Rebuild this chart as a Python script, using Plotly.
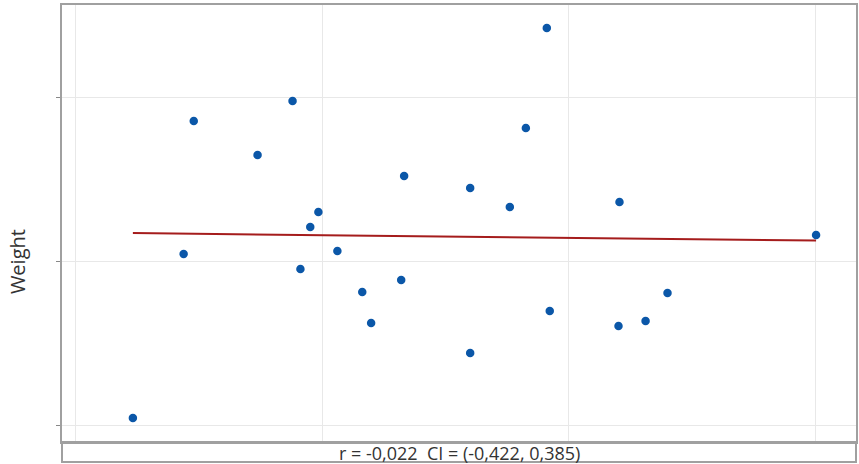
import numpy as np
import plotly.graph_objects as go

x_vals = [2.31, 4.37, 4.78, 7.37, 8.79, 9.11, 9.51, 9.84, 10.61, 11.62, 11.98, 13.20,
          13.32, 16.0, 16.0, 17.61, 18.26, 19.11, 19.23, 22.06, 22.02, 23.12, 24.01, 30.04]
y_vals = [0.49, 10.49, 18.6, 16.52, 19.82, 9.57, 12.13, 13.05, 10.67, 8.17, 6.28, 8.90,
          15.24, 14.51, 4.45, 13.35, 18.17, 24.27, 7.01, 13.66, 6.10, 6.40, 8.11, 11.65]
x_ticks = [0, 10, 20, 30]
y_ticks = [0, 10, 20]
stat_text = "r = -0,022  CI = (-0,422, 0,385)"

slope, intercept = np.polyfit(x_vals, y_vals, 1)
fit_x = [min(x_vals), max(x_vals)]
fit_y = [slope * v + intercept for v in fit_x]

W, H = 859, 464
ml, mr, mt, mb = 62, 1, 5, 22
plot_h = H - mt - mb
plot_w = W - ml - mr

fig = go.Figure()
fig.add_trace(go.Scatter(x=fit_x, y=fit_y, mode="lines",
                         line=dict(color="#a51c1c", width=2), showlegend=False, hoverinfo="skip"))
fig.add_trace(go.Scatter(x=x_vals, y=y_vals, mode="markers",
                         marker=dict(color="#0b57a8", size=8.5), showlegend=False))

fig.update_layout(
    width=W, height=H,
    margin=dict(l=ml, r=mr, t=mt, b=mb, pad=0),
    paper_bgcolor="white", plot_bgcolor="white",
    font=dict(family="Open Sans, Noto Sans, sans-serif", color="#333333"),
    xaxis=dict(range=[-0.567, 31.66], tickvals=x_ticks, showticklabels=False,
               showgrid=True, gridcolor="#e8e8e8", gridwidth=1, zeroline=False,
               showline=True, mirror=True, linecolor="#a0a0a0", linewidth=2, ticks=""),
    yaxis=dict(range=[-0.976, 25.67], tickvals=y_ticks, showticklabels=False,
               showgrid=True, gridcolor="#e8e8e8", gridwidth=1, zeroline=False,
               showline=True, mirror=True, linecolor="#a0a0a0", linewidth=2,
               ticks="outside", ticklen=4, tickcolor="#888888", tickwidth=1),
    shapes=[dict(type="rect", xref="paper", yref="paper", x0=0, x1=1,
                 y0=0, y1=-20 / plot_h, line=dict(color="#a0a0a0", width=2),
                 fillcolor="rgba(0,0,0,0)", layer="above")],
    annotations=[
        dict(text=stat_text, xref="paper", yref="paper", x=(460 - ml) / plot_w,
             y=-11 / plot_h, xanchor="center", yanchor="middle", showarrow=False,
             font=dict(size=18, color="#333333")),
        dict(text="Weight", xref="paper", yref="paper", x=(17 - ml) / plot_w,
             y=(H - mb - 262) / plot_h, xanchor="center", yanchor="middle", textangle=-90,
             showarrow=False, font=dict(size=20, color="#333333")),
    ],
)

fig.write_html("out.html", config={"displayModeBar": False},
               post_script="document.body.style.margin='0';document.body.style.padding='0';")
